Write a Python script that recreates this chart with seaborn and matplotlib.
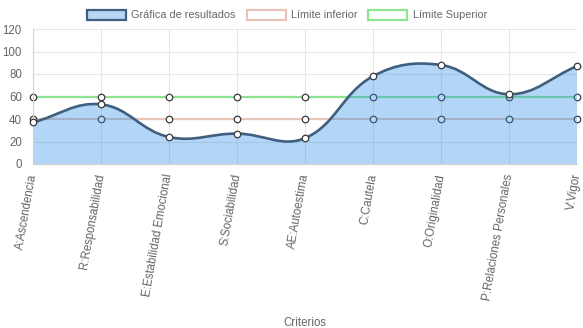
import numpy as np
import pandas as pd
import matplotlib
matplotlib.use("Agg")
import matplotlib.pyplot as plt
from matplotlib.path import Path
from matplotlib.patches import PathPatch, Patch
import seaborn as sns

criterios = ["A:Ascendencia", "R:Responsabilidad", "E:Estabilidad Emocional",
             "S:Sociabilidad", "AE:Autoestima", "C:Cautela", "O:Originalidad",
             "P:Relaciones Personales", "V:Vigor"]
resultados = [37, 53, 24, 27, 23, 78, 88, 62, 87]
limite_inferior = [40, 40, 40, 40, 40, 40, 40, 40, 40]
limite_superior = [60, 60, 60, 60, 60, 60, 60, 60, 60]
y_ticks = [0, 20, 40, 60, 80, 100, 120]

sns.set_style("white")
plt.rcParams["font.family"] = ["Liberation Sans", "DejaVu Sans"]

W, H = 583, 328
fig = plt.figure(figsize=(W / 100, H / 100), dpi=100)
ax = fig.add_axes([33 / W, 1 - 164 / H, (577 - 33) / W, (164 - 29) / H])

x = np.arange(len(criterios))
df = pd.DataFrame({"x": x, "res": resultados, "inf": limite_inferior, "sup": limite_superior})

ax.set_xlim(0, len(criterios) - 1)
ax.set_ylim(0, 120)

line_blue = "#3f5f80"
fill_rgba = (40 / 255, 140 / 255, 230 / 255, 0.35)
col_inf = "#e6c5b8"
col_sup = "#8fe58f"
mk_edge = "#3a3a3a"

# limit lines (drawn beneath the filled result area)
sns.lineplot(data=df, x="x", y="sup", ax=ax, color=col_sup, linewidth=1.6, zorder=1)
sns.lineplot(data=df, x="x", y="inf", ax=ax, color=col_inf, linewidth=1.6, zorder=1)
for col in ["sup", "inf"]:
    ax.scatter(df["x"], df[col], s=22, facecolor="white", edgecolor=mk_edge,
               linewidth=0.9, zorder=1.5, clip_on=False)

# smooth bezier curve through the results (tension 0.4)
fig.canvas.draw()
pts = ax.transData.transform(np.column_stack([x, resultados]))
tension = 0.4
verts = [pts[0]]
codes = [Path.MOVETO]
ctrl_prev = []
ctrl_next = []
n = len(pts)
for i in range(n):
    p0 = pts[max(i - 1, 0)]
    p1 = pts[i]
    p2 = pts[min(i + 1, n - 1)]
    d01 = np.hypot(*(p1 - p0))
    d12 = np.hypot(*(p2 - p1))
    tot = d01 + d12
    s01 = d01 / tot if tot else 0
    s12 = d12 / tot if tot else 0
    fa, fb = tension * s01, tension * s12
    ctrl_prev.append(p1 - fa * (p2 - p0))
    ctrl_next.append(p1 + fb * (p2 - p0))
for i in range(1, n):
    verts += [ctrl_next[i - 1], ctrl_prev[i], pts[i]]
    codes += [Path.CURVE4] * 3
inv = ax.transData.inverted()
verts_data = inv.transform(np.array(verts))

curve = Path(verts_data, codes)
fill_verts = np.vstack([verts_data, [[x[-1], 0], [x[0], 0], verts_data[0]]])
fill_codes = codes + [Path.LINETO, Path.LINETO, Path.CLOSEPOLY]
ax.add_patch(PathPatch(Path(fill_verts, fill_codes), facecolor=fill_rgba,
                       edgecolor="none", zorder=2))
ax.add_patch(PathPatch(curve, facecolor="none", edgecolor=line_blue,
                       linewidth=1.9, zorder=3, capstyle="round"))
ax.scatter(x, resultados, s=22, facecolor="white", edgecolor=mk_edge,
           linewidth=0.9, zorder=4, clip_on=False)

# axes styling
grid_c = "#e6e6e6"
ax.set_yticks(y_ticks)
ax.set_xticks(x)
ax.set_xticklabels(criterios, rotation=80, ha="right", va="center",
                   rotation_mode="anchor")
ax.grid(True, color=grid_c, linewidth=0.8)
ax.set_axisbelow(True)
for s in ["top", "right"]:
    ax.spines[s].set_visible(False)
ax.spines["left"].set_color("#d0d0d0")
ax.spines["bottom"].set_color("#d0d0d0")
ax.tick_params(axis="both", colors=grid_c, labelcolor="#666666", labelsize=8.3,
               length=6, width=0.8, direction="out", pad=2)
ax.tick_params(axis="x", pad=1)
ax.set_xlabel("Criterios", color="#666666", fontsize=8.3, labelpad=0)
ax.xaxis.set_label_coords(0.5, -(317 - 164) / (164 - 29))
ax.set_ylabel("")

handles = [
    Patch(facecolor="#b8d6f4", edgecolor=line_blue, linewidth=1.6, label="Gráfica de resultados"),
    Patch(facecolor="white", edgecolor=col_inf, linewidth=1.6, label="Límite inferior"),
    Patch(facecolor="white", edgecolor=col_sup, linewidth=1.6, label="Límite Superior"),
]
leg = fig.legend(handles=handles, loc="center", bbox_to_anchor=(287 / W, 1 - 15 / H),
                 ncol=3, frameon=False, fontsize=7.8, handlelength=3.6,
                 handleheight=1.1, handletextpad=0.5, columnspacing=1.0)
for t in leg.get_texts():
    t.set_color("#666666")

fig.savefig("out.png", dpi=100)
